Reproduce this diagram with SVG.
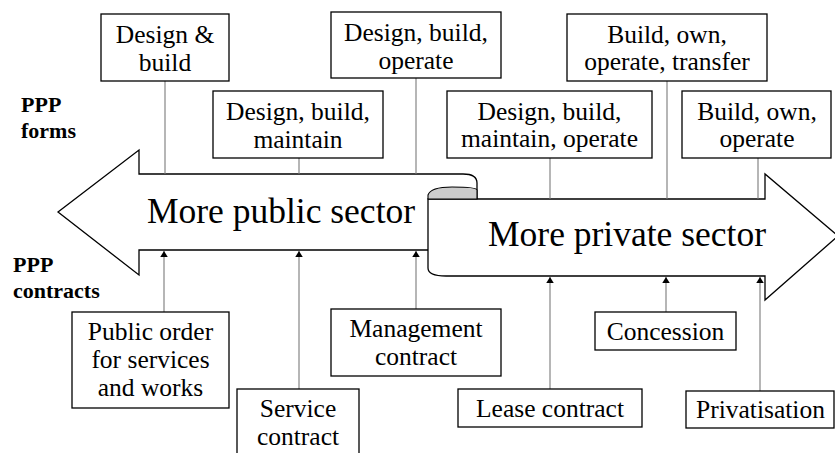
<svg xmlns="http://www.w3.org/2000/svg" width="835" height="453" viewBox="0 0 835 453">
<style>
text{font-family:'Liberation Serif',Tinos,serif !important;fill:#000}
.t{font-size:25.5px;text-anchor:middle}
.big{font-size:35.5px;text-anchor:middle}
.lbl{font-size:22px;font-weight:bold}
.box{fill:#fff;stroke:#000;stroke-width:1.3}
.arrow{fill:#fff;stroke:#000;stroke-width:1.3}
.con{stroke:#7a7a7a;stroke-width:1.1;fill:none}
</style>
<defs>
<marker id="ah" viewBox="0 0 8 10" refX="8" refY="5" markerWidth="6" markerHeight="8" orient="auto" markerUnits="userSpaceOnUse">
<path d="M0,0 L8,5 L0,10 Z" fill="#000"/>
</marker>
</defs>
<rect width="835" height="453" fill="#fff"/>

<g id="labels">
<text class="lbl" x="21" y="112" font-family="Liberation Serif">PPP</text>
<text class="lbl" x="21" y="138" font-family="Liberation Serif">forms</text>
<text class="lbl" x="13" y="272" font-family="Liberation Serif">PPP</text>
<text class="lbl" x="13" y="298" font-family="Liberation Serif">contracts</text>
</g>

<g id="arrow-public">
<path class="arrow" d="M139,174 L463,174 C472,174 477,177 477,183 L477,250 L139,250 L139,275 L58,212 L139,150 Z"/>
</g>
<g id="arrow-private">
<path class="arrow" d="M428,199 L428,268 Q428,276 446,276 L765,276 L765,300 L838,236 L765,174 L765,199 Z"/>
<path d="M428,199 L428,195 C430,189 440,187 452,187 C466,187 477,188 477,190 L477,199 Z" fill="#cccccc" stroke="#000" stroke-width="1.1"/>
</g>
<text class="big" x="281" y="223" font-family="Liberation Serif">More public sector</text>
<text class="big" x="627" y="246" font-family="Liberation Serif">More private sector</text>

<g id="connectors">
<line class="con" x1="165" y1="81" x2="165" y2="174"/>
<line class="con" x1="299" y1="158" x2="299" y2="174"/>
<line class="con" x1="416" y1="78" x2="416" y2="174"/>
<line class="con" x1="667" y1="81" x2="667" y2="199"/>
<line class="con" x1="550" y1="158" x2="550" y2="199"/>
<line class="con" x1="758" y1="158" x2="758" y2="199"/>
<line class="con" x1="164" y1="312" x2="164" y2="251" marker-end="url(#ah)"/>
<line class="con" x1="299" y1="389" x2="299" y2="251" marker-end="url(#ah)"/>
<line class="con" x1="416" y1="309" x2="416" y2="251" marker-end="url(#ah)"/>
<line class="con" x1="550" y1="389" x2="550" y2="277" marker-end="url(#ah)"/>
<line class="con" x1="666" y1="312" x2="666" y2="277" marker-end="url(#ah)"/>
<line class="con" x1="760" y1="391" x2="760" y2="277" marker-end="url(#ah)"/>
</g>

<g id="form-db">
<rect class="box" x="101" y="14" width="128" height="67"/>
<text class="t" x="165" y="43" font-family="Liberation Serif">Design &amp;</text>
<text class="t" x="165" y="70.5" font-family="Liberation Serif">build</text>
</g>
<g id="form-dbm">
<rect class="box" x="213" y="91" width="170" height="67"/>
<text class="t" x="298" y="120" font-family="Liberation Serif">Design, build,</text>
<text class="t" x="298" y="147.5" font-family="Liberation Serif">maintain</text>
</g>
<g id="form-dbo">
<rect class="box" x="331" y="12" width="170" height="66"/>
<text class="t" x="416" y="41" font-family="Liberation Serif">Design, build,</text>
<text class="t" x="416" y="68.5" font-family="Liberation Serif">operate</text>
</g>
<g id="form-boot">
<rect class="box" x="567" y="14" width="200" height="67"/>
<text class="t" x="667" y="42.5" font-family="Liberation Serif">Build, own,</text>
<text class="t" x="667" y="70" font-family="Liberation Serif">operate, transfer</text>
</g>
<g id="form-dbmo">
<rect class="box" x="447" y="91" width="205" height="67"/>
<text class="t" x="549.5" y="119.5" font-family="Liberation Serif">Design, build,</text>
<text class="t" x="549.5" y="147" font-family="Liberation Serif">maintain, operate</text>
</g>
<g id="form-boo">
<rect class="box" x="682" y="91" width="149" height="67"/>
<text class="t" x="757" y="119.5" font-family="Liberation Serif">Build, own,</text>
<text class="t" x="757" y="147" font-family="Liberation Serif">operate</text>
</g>

<g id="contract-public-order">
<rect class="box" x="72" y="312" width="157" height="96"/>
<text class="t" x="150.5" y="340" font-family="Liberation Serif">Public order</text>
<text class="t" x="150.5" y="368" font-family="Liberation Serif">for services</text>
<text class="t" x="150.5" y="396" font-family="Liberation Serif">and works</text>
</g>
<g id="contract-service">
<rect class="box" x="237" y="389" width="122" height="70"/>
<text class="t" x="298" y="417" font-family="Liberation Serif">Service</text>
<text class="t" x="298" y="445" font-family="Liberation Serif">contract</text>
</g>
<g id="contract-management">
<rect class="box" x="331" y="309" width="170" height="67"/>
<text class="t" x="416" y="337" font-family="Liberation Serif">Management</text>
<text class="t" x="416" y="365" font-family="Liberation Serif">contract</text>
</g>
<g id="contract-lease">
<rect class="box" x="458" y="389" width="184" height="38"/>
<text class="t" x="550" y="417" font-family="Liberation Serif">Lease contract</text>
</g>
<g id="contract-concession">
<rect class="box" x="595" y="312" width="141" height="38"/>
<text class="t" x="665.5" y="340" font-family="Liberation Serif">Concession</text>
</g>
<g id="contract-privatisation">
<rect class="box" x="686" y="391" width="148" height="37"/>
<text class="t" x="760.5" y="418" font-family="Liberation Serif">Privatisation</text>
</g>
</svg>
